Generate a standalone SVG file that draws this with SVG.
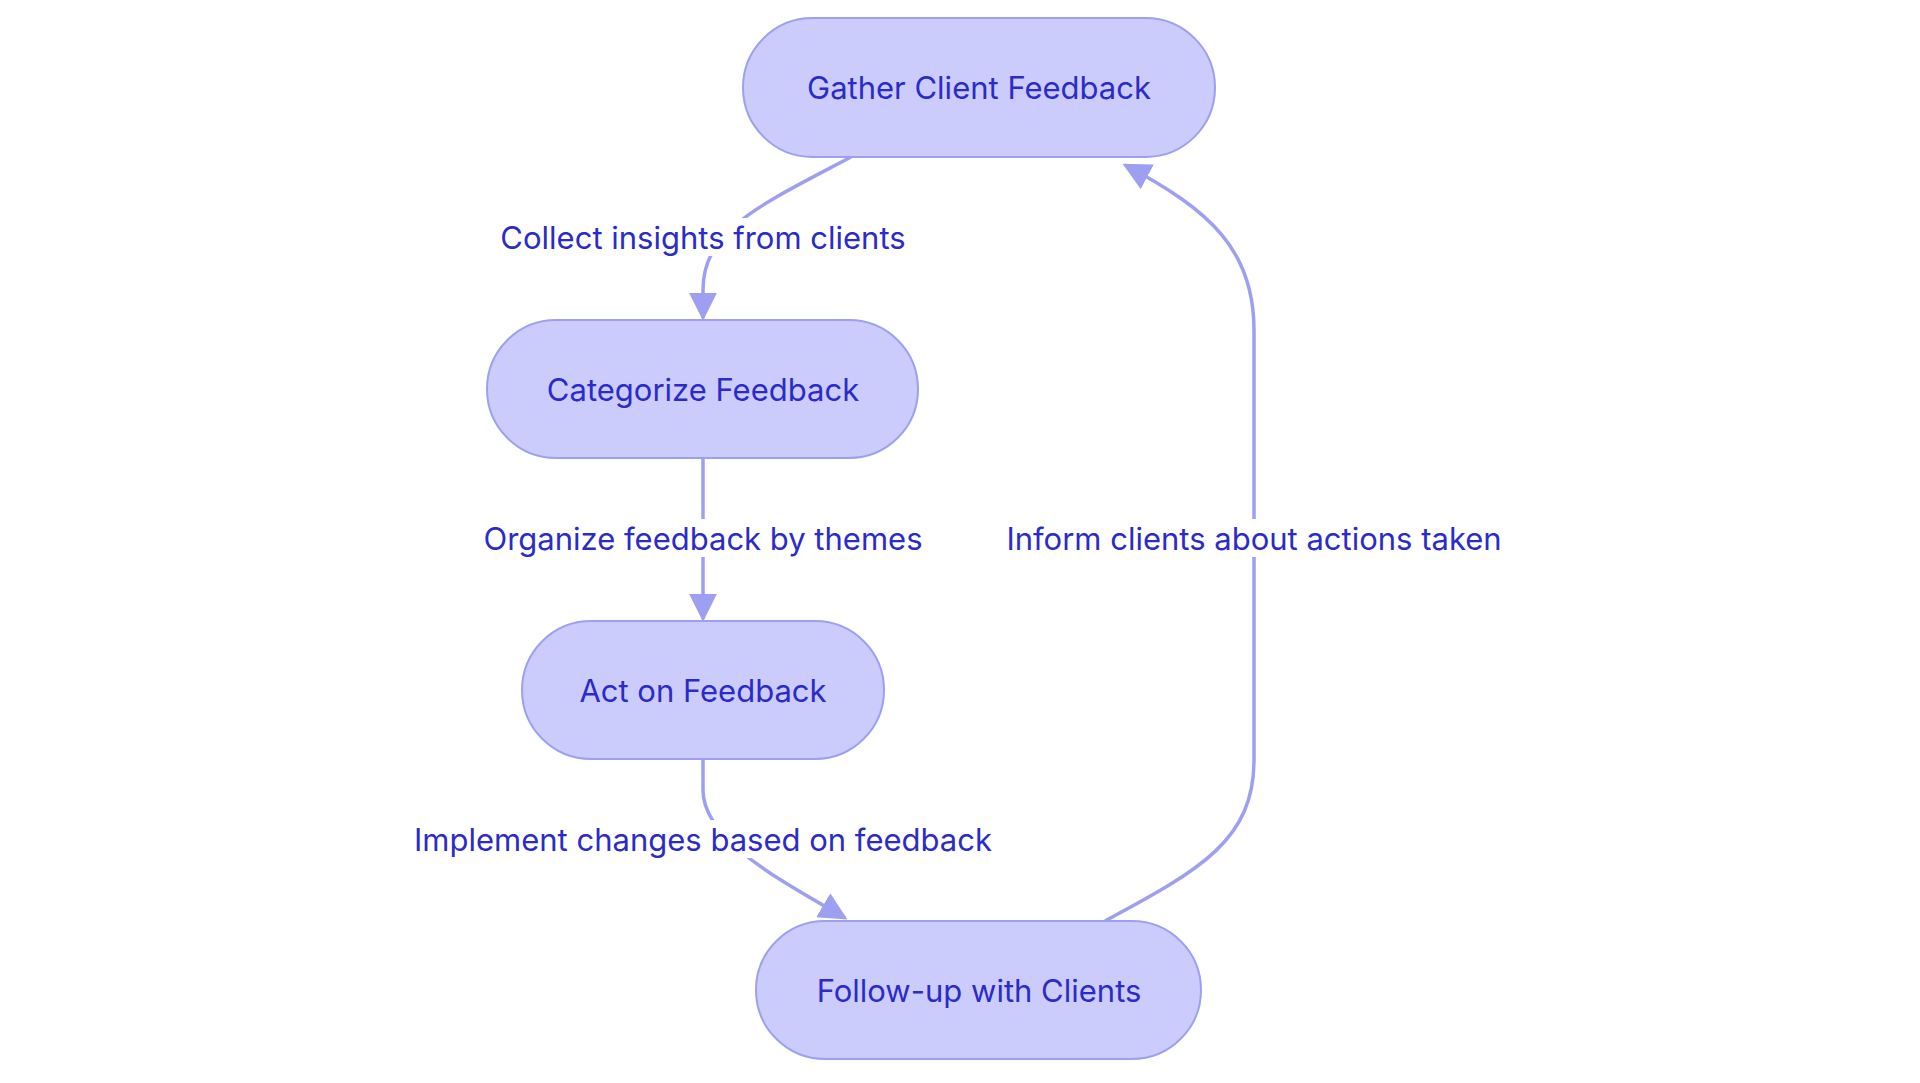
<svg xmlns="http://www.w3.org/2000/svg" width="1920" height="1083" viewBox="0 0 1920 1083">
<style>
.n{fill:#cbcbfc;stroke:#9da0f0;stroke-width:2}
.t{font-family:Inter,"Noto Sans",sans-serif;font-size:31px;fill:#2b2bc8;text-anchor:middle;dominant-baseline:central}
.e{fill:none;stroke:#9da0f0;stroke-width:3.5}
.lb{fill:#ffffff}
</style>
<defs><marker id="a" viewBox="0 0 10 10" refX="10" refY="5" markerWidth="7" markerHeight="7" markerUnits="userSpaceOnUse" orient="auto"><path d="M0,0L10,5L0,10z" fill="#9da0f0"/></marker>
<marker id="b" viewBox="0 0 10 10" refX="9" refY="5" markerWidth="8" markerHeight="8" orient="auto"><path d="M0,0L10,5L0,10z" fill="#9da0f0"/></marker></defs>
<rect width="1920" height="1083" fill="#fff"/>
<g id="edges">
<path class="e" marker-end="url(#b)" d="M851,157 C760,205 703,230 703,290 L703,318"/>
<path class="e" marker-end="url(#b)" d="M703,458 L703,619"/>
<path class="e" marker-end="url(#b)" d="M703,759 L703,790 C703,840 780,880 845,918"/>
<path class="e" marker-end="url(#b)" d="M1105,921 C1200,870 1254,840 1254,760 L1254,330 C1254,250 1210,210 1125,165"/>
<rect class="lb" x="482" y="218" width="442" height="38"/><text class="t" x="703" y="237">Collect insights from clients</text>
<rect class="lb" x="470" y="519" width="466" height="38"/><text class="t" x="703" y="538">Organize feedback by themes</text>
<rect class="lb" x="985" y="519" width="538" height="38"/><text class="t" x="1254" y="538">Inform clients about actions taken</text>
<rect class="lb" x="396" y="820" width="614" height="38"/><text class="t" x="703" y="839">Implement changes based on feedback</text>
</g>
<g id="gather"><rect class="n" x="743" y="18" width="472" height="139" rx="69.5"/><text class="t" x="979" y="87">Gather Client Feedback</text></g>
<g id="categorize"><rect class="n" x="487" y="320" width="431" height="138" rx="69"/><text class="t" x="703" y="389">Categorize Feedback</text></g>
<g id="act"><rect class="n" x="522" y="621" width="362" height="138" rx="69"/><text class="t" x="703" y="690">Act on Feedback</text></g>
<g id="follow"><rect class="n" x="756" y="921" width="445" height="138" rx="69"/><text class="t" x="979" y="990">Follow-up with Clients</text></g>
</svg>
